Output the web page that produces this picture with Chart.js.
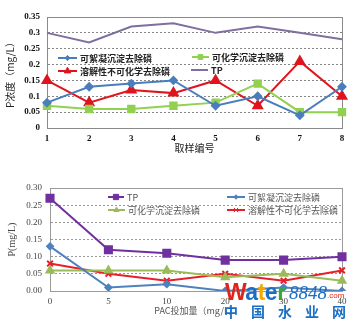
<!DOCTYPE html>
<html>
<head>
<meta charset="utf-8">
<script src="https://cdn.jsdelivr.net/npm/chart.js@4/dist/chart.umd.min.js"></script>
<style>
  html, body { margin: 0; padding: 0; background: #fff; }
  #wrap { position: relative; width: 353px; height: 329px; overflow: hidden; }
  canvas { position: absolute; left: 0; }
  #top { top: 0; }
  #bottom { top: 160px; }
  .wm { position: absolute; font-family: "Liberation Sans", Arial, sans-serif; white-space: nowrap; line-height: 1; }
</style>
</head>
<body>
<div id="wrap">
  <canvas id="top" width="353" height="160"></canvas>
  <canvas id="bottom" width="353" height="169"></canvas>
  <div class="wm" style="left:225px; top:281px; font-size:23px; font-weight:bold; letter-spacing:-0.5px;">
    <span style="color:#e2231a">W</span><span style="color:#1a6fc4">a</span><span style="color:#f5a800">t</span><span style="color:#1a6fc4">e</span><span style="color:#3aa935">r</span>
  </div>
  <div class="wm" style="left:289px; top:283px; font-size:19px; font-style:italic; font-family:'Liberation Serif', serif; color:#1a6fc4;">8848</div>
  <div class="wm" style="left:327px; top:292px; font-size:8px; color:#e2231a;">.com</div>
  <div class="wm" style="left:224px; top:304px; font-size:14px; font-weight:bold; letter-spacing:13px; color:#1a6fc4; font-family:'Noto Sans CJK SC', sans-serif;">中国水业网</div>
</div>
<script>
// top chart: 取样编号 1..8
const sampleNo = ['1', '2', '3', '4', '5', '6', '7', '8'];
const topFloc = [0.08, 0.13, 0.14, 0.15, 0.07, 0.10, 0.04, 0.13];
const topChem = [0.07, 0.06, 0.06, 0.07, 0.08, 0.14, 0.05, 0.05];
const topSoluble = [0.15, 0.08, 0.12, 0.11, 0.15, 0.07, 0.21, 0.10];
const topTP = [0.30, 0.27, 0.32, 0.33, 0.30, 0.32, 0.30, 0.28];

// bottom chart: PAC投加量
const pacDose = ['0', '5', '10', '20', '30', '40'];
const botTP = [0.27, 0.12, 0.11, 0.09, 0.09, 0.10];
const botFloc = [0.13, 0.01, 0.02, 0.00, 0.01, 0.00];
const botChem = [0.06, 0.06, 0.06, 0.04, 0.05, 0.03];
const botSoluble = [0.08, 0.05, 0.03, 0.05, 0.03, 0.06];

const cjk = '"Noto Sans CJK SC", sans-serif';
const serif = '"Liberation Serif", "DejaVu Serif", serif';

// draws a box round the plot area
const frame = {
  id: 'frame',
  beforeDatasetsDraw(chart, args, opts) {
    const a = chart.chartArea, c = chart.ctx;
    c.save();
    c.strokeStyle = opts.color;
    c.lineWidth = 1;
    c.strokeRect(a.left + 0.5, a.top + 0.5, a.right - a.left, a.bottom - a.top);
    c.restore();
  }
};

// legend drawn at fixed spots inside the plot
const placedLegend = {
  id: 'placedLegend',
  afterDatasetsDraw(chart, args, opts) {
    const c = chart.ctx;
    c.save();
    opts.items.forEach(it => {
      const ds = chart.data.datasets[it.index];
      c.strokeStyle = ds.borderColor;
      c.lineWidth = 2;
      c.beginPath();
      c.moveTo(it.x, it.y);
      c.lineTo(it.x + it.w, it.y);
      c.stroke();
      if (ds.pointStyle && ds.pointRadius > 0) {
        c.fillStyle = ds.pointBackgroundColor;
        c.strokeStyle = ds.borderColor;
        c.lineWidth = 1;
        Chart.helpers.drawPoint(c, {
          pointStyle: ds.pointStyle, radius: ds.pointRadius * 0.75, rotation: 0, borderWidth: 1
        }, it.x + it.w / 2, it.y);
      }
      c.fillStyle = opts.color;
      c.font = opts.font;
      c.letterSpacing = opts.spacing || '0px';
      c.textBaseline = 'middle';
      c.fillText(ds.label, it.x + it.w + 3, it.y + 1);
    });
    c.restore();
  }
};

const fix = (w) => function (scale) { scale.width = w; };
const fixH = (h) => function (scale) { scale.height = h; };

new Chart(document.getElementById('top'), {
  type: 'line',
  data: {
    labels: sampleNo,
    datasets: [
      { label: '可絮凝沉淀去除磷', data: topFloc, borderColor: '#4a7ebb', pointBackgroundColor: '#4a7ebb',
        pointStyle: 'rectRot', pointRadius: 3.5, borderWidth: 2 },
      { label: '可化学沉淀去除磷', data: topChem, borderColor: '#92d050', pointBackgroundColor: '#92d050',
        pointStyle: 'rect', pointRadius: 4.5, borderWidth: 2 },
      { label: '溶解性不可化学去除磷', data: topSoluble, borderColor: '#e0141e', pointBackgroundColor: '#e0141e',
        pointStyle: 'triangle', pointRadius: 5, borderWidth: 2 },
      { label: 'TP', data: topTP, borderColor: '#7f6f9f', pointRadius: 0, borderWidth: 2 }
    ]
  },
  options: {
    responsive: false,
    animation: false,
    layout: { padding: { top: 17, right: 11, left: 4, bottom: 6 } },
    plugins: {
      legend: { display: false },
      tooltip: { enabled: false },
      frame: { color: '#8a8a8a' },
      placedLegend: {
        color: '#222', font: 'bold 9px ' + cjk, spacing: '0px',
        items: [
          { index: 0, x: 58, y: 58, w: 19 },
          { index: 1, x: 192, y: 57, w: 17 },
          { index: 2, x: 58, y: 71, w: 19 },
          { index: 3, x: 191, y: 70, w: 17 }
        ]
      }
    },
    scales: {
      x: {
        afterFit: fixH(26),
        grid: { display: false, drawTicks: false },
        border: { color: '#8a8a8a' },
        ticks: { color: '#111', font: { family: serif, size: 9, weight: 'bold' }, padding: 5 },
        title: { display: true, text: '取样编号', color: '#222', font: { family: cjk, size: 10 }, padding: 0 }
      },
      y: {
        afterFit: fix(43),
        min: 0, max: 0.35,
        grid: { color: '#888', tickLength: 0 },
        border: { color: '#8a8a8a', dash: [2, 2] },
        ticks: {
          stepSize: 0.05, color: '#111', padding: 7,
          font: { family: serif, size: 9, weight: 'bold' },
          callback: v => String(+v.toFixed(2))
        },
        title: { display: true, text: 'P浓度（mg/L）', color: '#222', font: { family: cjk, size: 10 }, padding: 0 }
      }
    }
  },
  plugins: [frame, placedLegend]
});

new Chart(document.getElementById('bottom'), {
  type: 'line',
  data: {
    labels: pacDose,
    datasets: [
      { label: 'TP', data: botTP, borderColor: '#7030a0', pointBackgroundColor: '#7030a0',
        pointStyle: 'rect', pointRadius: 5, borderWidth: 2 },
      { label: '可絮凝沉淀去除磷', data: botFloc, borderColor: '#4f81bd', pointBackgroundColor: '#4f81bd',
        pointStyle: 'rectRot', pointRadius: 3, borderWidth: 2 },
      { label: '可化学沉淀去除磷', data: botChem, borderColor: '#9bbb59', pointBackgroundColor: '#9bbb59',
        pointStyle: 'triangle', pointRadius: 4, borderWidth: 2 },
      { label: '溶解性不可化学去除磷', data: botSoluble, borderColor: '#e5202a', pointBackgroundColor: '#e5202a',
        pointStyle: 'crossRot', pointRadius: 4, borderWidth: 2 }
    ]
  },
  options: {
    responsive: false,
    animation: false,
    layout: { padding: { top: 28, right: 11, left: 6, bottom: 13 } },
    plugins: {
      legend: { display: false },
      tooltip: { enabled: false },
      frame: { color: '#9a9a9a' },
      placedLegend: {
        color: '#555', font: '9px ' + cjk, spacing: '0px',
        items: [
          { index: 0, x: 108, y: 37, w: 16 },
          { index: 1, x: 227, y: 37, w: 18 },
          { index: 2, x: 108, y: 50, w: 17 },
          { index: 3, x: 227, y: 50, w: 18 }
        ]
      }
    },
    scales: {
      x: {
        afterFit: fixH(25),
        grid: { display: false, drawTicks: false },
        border: { color: '#9a9a9a' },
        ticks: { color: '#444', font: { family: serif, size: 9 }, padding: 5 },
        title: { display: true, text: 'PAC投加量（mg/L）', color: '#555', font: { family: cjk, size: 9 }, padding: 0 }
      },
      y: {
        afterFit: fix(44),
        min: 0, max: 0.30,
        grid: { color: '#999', tickLength: 0 },
        border: { color: '#9a9a9a', dash: [2, 2] },
        ticks: {
          stepSize: 0.05, color: '#444', padding: 8,
          font: { family: serif, size: 9 },
          callback: v => v.toFixed(2)
        },
        title: { display: true, text: 'P(mg/L)', color: '#444', font: { family: serif, size: 10 }, padding: 0 }
      }
    }
  },
  plugins: [frame, placedLegend]
});
</script>
</body>
</html>
